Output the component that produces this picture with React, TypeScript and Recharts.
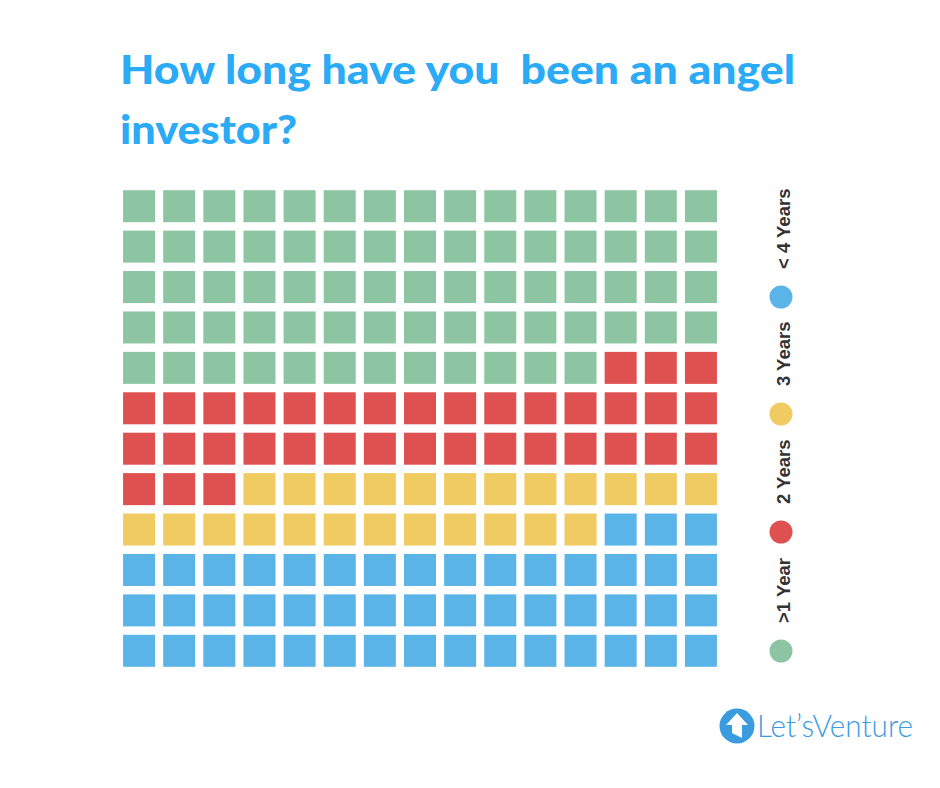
import { Scatter, ScatterChart, XAxis, YAxis } from "recharts";

// fill order is row-major from the top-left cell
const categories = [">1 Year", "2 Years", "3 Years", "< 4 Years"];
const counts = [72, 36, 24, 48];
const colors = ["#8DC5A3", "#DF5050", "#F0CB61", "#5BB4E7"];

const COLS = 15;
const ROWS = 12;

function buildCells() {
  const out: { name: string; color: string; cells: { x: number; y: number }[] }[] = [];
  let i = 0;
  categories.forEach((name, k) => {
    const cells: { x: number; y: number }[] = [];
    for (let n = 0; n < counts[k]; n++, i++) {
      cells.push({ x: (i % COLS) + 0.5, y: Math.floor(i / COLS) + 0.5 });
    }
    out.push({ name, color: colors[k], cells });
  });
  return out;
}

const groups = buildCells();

const Square = (props: any) => {
  const { cx, cy, fill } = props;
  if (cx == null || cy == null) return null;
  return <rect x={cx - 16} y={cy - 16} width={32} height={32} fill={fill} />;
};

// legend reads bottom-to-top: dot then label
const legendDotsY = [651, 532, 414, 297];

export default function App() {
  return (
    <div style={{ position: "absolute", left: 0, top: 0, width: 940, height: 788, background: "#fff" }}>
      <ScatterChart
        width={940}
        height={788}
        margin={{ top: 186, right: 219, bottom: 117, left: 119 }}
        style={{ position: "absolute", left: 0, top: 0 }}
      >
        <XAxis type="number" dataKey="x" domain={[0, COLS]} hide />
        <YAxis type="number" dataKey="y" domain={[0, ROWS]} reversed hide />
        {groups.map((g) => (
          <Scatter
            key={g.name}
            name={g.name}
            data={g.cells}
            fill={g.color}
            shape={Square}
            isAnimationActive={false}
          />
        ))}
      </ScatterChart>
      <svg
        width={940}
        height={788}
        style={{ position: "absolute", left: 0, top: 0, pointerEvents: "none" }}
      >
        <text
          x={120}
          y={84}
          fill="#2BAAF5"
          fontFamily="Lato, 'Open Sans', sans-serif"
          fontWeight={900}
          fontSize={39}
          textLength={675}
          lengthAdjust="spacingAndGlyphs"
          style={{ whiteSpace: "pre" }}
        >
          How long have you  been an angel
        </text>
        <text
          x={120}
          y={144}
          fill="#2BAAF5"
          fontFamily="Lato, 'Open Sans', sans-serif"
          fontWeight={900}
          fontSize={39}
          textLength={177}
          lengthAdjust="spacingAndGlyphs"
        >
          investor?
        </text>

        {groups.map((g, k) => {
          const dy = legendDotsY[k];
          return (
            <g key={g.name}>
              <circle cx={781} cy={dy} r={11.5} fill={g.color} />
              <text
                x={783}
                y={dy - 28}
                transform={`rotate(-90 783 ${dy - 28})`}
                fill="#333"
                fontFamily="'Liberation Sans', Arial, sans-serif"
                fontWeight={700}
                fontSize={18.5}
                dominantBaseline="central"
                textAnchor="start"
              >
                {g.name}
              </text>
            </g>
          );
        })}

        <circle cx={737} cy={726} r={17.5} fill="#3A9BDF" />
        <path d="M737 713 L748 725 L742 725 L742 738 L732 733 L732 725 L726 725 Z" fill="#fff" />
        <text
          x={757}
          y={737}
          fill="#3A9BDF"
          fontFamily="Lato, 'Open Sans', sans-serif"
          fontWeight={300}
          fontSize={31}
          textLength={156}
          lengthAdjust="spacingAndGlyphs"
        >
          Let’sVenture
        </text>
      </svg>
    </div>
  );
}
